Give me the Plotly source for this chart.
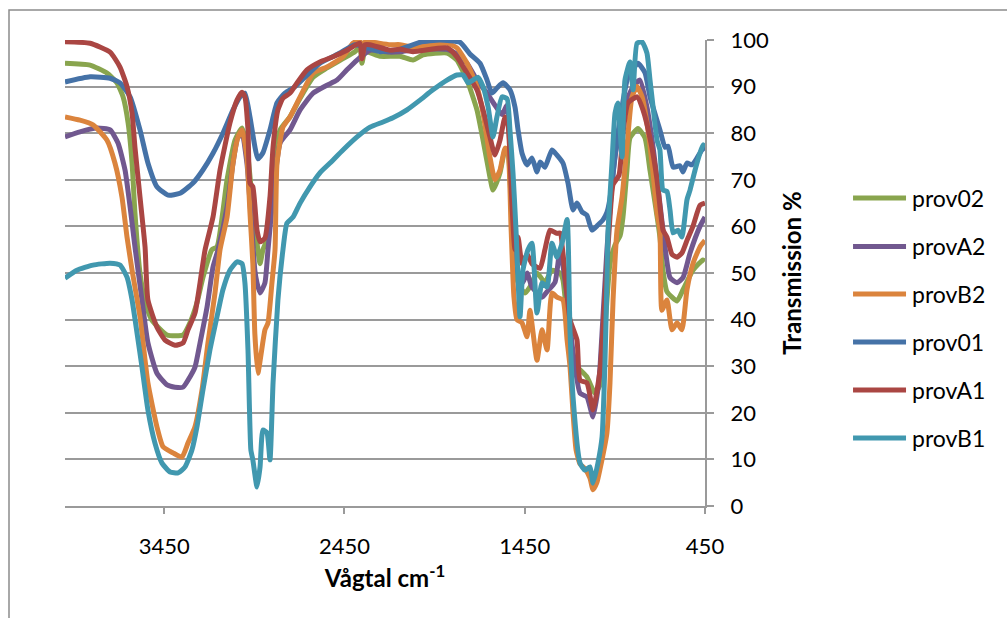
import plotly.graph_objects as go

# ---------------- data (wavenumber cm-1, transmission %) ----------------
series_names = ["prov02", "provA2", "provB2", "prov01", "provA1", "provB1"]
series_colors = ["#89A54E", "#71588F", "#DB843D", "#4572A7", "#AA4643", "#4198AF"]

prov02_x = [4000, 3861, 3767, 3712, 3678, 3650, 3628, 3612, 3584, 3556, 3520, 3434, 3345, 3307, 3268, 3235,
            3185, 3157, 3101, 3057, 3018, 2991, 2963, 2935, 2918, 2902, 2874, 2846, 2807, 2752, 2696, 2624,
            2547, 2458, 2392, 2364, 2353, 2336, 2253, 2142, 2070, 2014, 1881, 1826, 1770, 1715, 1681, 1643,
            1626, 1587, 1559, 1543, 1521, 1504, 1476, 1448, 1421, 1382, 1338, 1299, 1254, 1238, 1199, 1160,
            1105, 1060, 1032, 1005, 977, 949, 921, 905, 883, 866, 822, 783, 755, 727, 700, 683, 661, 605,
            572, 517, 461, 450]
prov02_y = [95, 94.6, 92.9, 90.8, 87.8, 82.2, 73.6, 62.9, 50, 44, 40, 36.7, 36.7, 39.3, 43.6, 49,
            55, 55.6, 70, 78.5, 81.1, 77, 66.3, 56.4, 52, 55, 57.7, 72, 80.7, 83.5, 87.5, 92,
            94, 96, 97.5, 98.5, 95, 97.5, 96.5, 96.5, 95.7, 96.8, 97.2, 95.7, 91.4, 85, 78.5, 70.6,
            67.8, 71.5, 76.4, 76, 60, 50, 47, 45.7, 47, 50, 48, 50.6, 50, 48.5, 35, 30,
            27.7, 24.2, 26, 38, 52, 56, 58, 62, 72, 79, 81, 79, 72, 65, 57.7, 50.6, 46, 44,
            46.4, 50.6, 52.8, 52.5]

provA2_x = [4000, 3917, 3823, 3750, 3706, 3667, 3639, 3612, 3573, 3540, 3490, 3434, 3390, 3345, 3307, 3279,
            3251, 3212, 3179, 3151, 3101, 3068, 3040, 3018, 2991, 2963, 2947, 2935, 2918, 2891, 2874, 2846,
            2807, 2752, 2696, 2624, 2547, 2491, 2436, 2380, 2308, 2197, 2142, 2031, 1881, 1826, 1770, 1715,
            1659, 1615, 1576, 1548, 1526, 1510, 1487, 1460, 1437, 1410, 1354, 1326, 1282, 1254, 1215, 1182,
            1143, 1105, 1071, 1044, 1032, 994, 949, 894, 849, 811, 772, 738, 711, 683, 672, 644, 605, 572,
            533, 478, 450]
provA2_y = [79.2, 80.3, 81.1, 80.7, 77.9, 72.1, 64.2, 55.6, 44.2, 35, 28.5, 26, 25.5, 25.5, 27.7, 29.8,
            35, 42.7, 51.3, 55, 64.2, 73.6, 79.2, 79.5, 73.6, 59.2, 50.6, 47.9, 45.7, 47.9, 55, 66.3,
            77.9, 80.7, 85, 88.6, 90.3, 91.4, 93.6, 95.7, 97.8, 97.4, 97.5, 98, 98, 97, 95, 91.4,
            88.6, 86, 84, 86, 70, 55, 50, 48, 50, 47, 44.8, 46, 48, 55, 45, 33,
            24.2, 23.4, 19.1, 25, 30, 55, 75, 86, 90, 91.4, 85.6, 77, 68.5, 59.2, 55.6, 49, 47.9, 49,
            54.3, 60, 62]

provB2_x = [4000, 3917, 3845, 3767, 3723, 3684, 3656, 3628, 3584, 3540, 3490, 3456, 3401, 3351, 3318, 3279,
            3240, 3207, 3168, 3140, 3101, 3068, 3040, 3018, 2991, 2974, 2958, 2947, 2930, 2907, 2891, 2874,
            2852, 2835, 2824, 2791, 2752, 2696, 2624, 2547, 2458, 2403, 2364, 2353, 2336, 2308, 2197, 2142,
            2070, 1881, 1826, 1770, 1715, 1681, 1643, 1615, 1587, 1559, 1543, 1526, 1510, 1493, 1465, 1437,
            1421, 1382, 1354, 1326, 1299, 1271, 1238, 1215, 1199, 1182, 1165, 1143, 1116, 1088, 1071, 1050,
            1032, 994, 977, 960, 938, 910, 883, 855, 827, 799, 772, 744, 716, 700, 689, 661, 633, 605,
            578, 550, 517, 478, 450]
provB2_y = [83.5, 82.8, 81.8, 78.5, 73.6, 66.3, 57.7, 50.6, 40.6, 26.4, 17, 12.7, 11.4, 10.5, 13.5, 17,
            24.9, 35, 45.7, 55, 62, 73.6, 79.2, 80.7, 74.9, 62.9, 52, 37, 28.5, 34, 37.8, 39.3,
            47.9, 55, 73.6, 81.3, 83.5, 87.8, 92.9, 94.2, 96.4, 99.3, 100, 96, 99.6, 99.6, 99, 99,
            98.5, 99.3, 98.3, 95, 90, 84.3, 74.9, 70, 72.1, 76.8, 76, 60, 45, 40, 39.3, 36.3,
            42, 31.3, 37.8, 33.5, 45.7, 44.8, 44.2, 35.6, 30, 20, 12, 9, 8, 6, 3.5, 5,
            8, 15.7, 26.4, 44.2, 59.2, 66.3, 77, 87.8, 90, 87.8, 82.2, 73.6, 62.9, 59.2, 42, 44.2, 37.8, 39.3,
            37.8, 46.4, 52, 55.6, 57]

prov01_x = [4000, 3861, 3750, 3695, 3639, 3584, 3540, 3490, 3428, 3362, 3290, 3235, 3179, 3124, 3068, 3029,
            3002, 2974, 2930, 2902, 2863, 2824, 2780, 2724, 2669, 2586, 2475, 2392, 2253, 2142, 2031, 1920,
            1809, 1754, 1698, 1659, 1632, 1604, 1570, 1532, 1504, 1487, 1465, 1437, 1410, 1382, 1365, 1338,
            1299, 1271, 1238, 1210, 1182, 1160, 1132, 1105, 1077, 1044, 1016, 994, 977, 933, 877, 822,
            783, 755, 700, 672, 655, 627, 589, 572, 550, 522, 494, 467, 450]
prov01_y = [91, 92.1, 91.8, 90.8, 87.8, 80.7, 73.6, 68.5, 66.7, 67.1, 69.3, 72.1, 75.7, 80, 85, 87.8,
            88.6, 83.5, 74.5, 75.8, 80.7, 86.5, 88.6, 90, 92, 95, 97.2, 99, 97.5, 98, 99.5, 100,
            99.5, 97, 95, 91.4, 88.6, 89.7, 90.8, 89.3, 85.6, 80.7, 75.7, 73.2, 74.7, 71.7, 73.8, 72.7,
            76.4, 75.3, 73.6, 69.3, 63.5, 65, 63.1, 62.4, 59.2, 60.3, 61.4, 63, 66, 80, 92, 95,
            93, 87.8, 80.7, 77, 77.2, 72.7, 73, 71.7, 73.6, 73.2, 74.7, 76.4, 77]

provA1_x = [4000, 3861, 3750, 3695, 3656, 3628, 3612, 3584, 3556, 3540, 3490, 3445, 3390, 3345, 3318, 3279,
            3251, 3223, 3179, 3140, 3085, 3046, 3018, 3002, 2985, 2974, 2958, 2935, 2918, 2891, 2863, 2846,
            2819, 2791, 2752, 2713, 2658, 2586, 2513, 2436, 2364, 2353, 2336, 2308, 2197, 2142, 2070, 1881,
            1826, 1770, 1715, 1681, 1643, 1615, 1587, 1559, 1543, 1521, 1504, 1487, 1465, 1437, 1410, 1365,
            1338, 1310, 1271, 1254, 1227, 1199, 1160, 1143, 1105, 1071, 1032, 1016, 994, 977, 960, 927,
            905, 877, 827, 794, 750, 716, 683, 661, 633, 605, 578, 550, 517, 478, 450]
provA1_y = [99.6, 99.3, 97.4, 94.2, 90, 84.3, 77, 66.3, 55.6, 44.2, 38.4, 35.6, 34.5, 35, 37.8, 41.4,
            47.9, 55, 62, 72.1, 82.2, 87.1, 88.8, 87.8, 80.7, 69.3, 68.5, 59.2, 56.7, 57.5, 66.3, 77,
            85, 87.5, 88.6, 90.8, 93.6, 95.3, 96.4, 97.8, 99.3, 96, 99, 99, 97.8, 98, 97.5, 98.3,
            96.4, 92.9, 89.3, 85, 79.2, 75.3, 78.5, 83.5, 82, 65, 55, 57.7, 52, 54, 52, 51,
            55, 59.2, 58.5, 58.6, 50, 40, 35.6, 27, 26.4, 20.6, 29.2, 37.8, 52, 62, 69, 71,
            80, 86.5, 87.8, 85, 78, 70, 59.2, 57.7, 54, 53.4, 54.3, 57, 60, 64.5, 65]

provB1_x = [4000, 3934, 3845, 3750, 3695, 3656, 3628, 3600, 3573, 3540, 3501, 3462, 3417, 3373, 3334, 3296,
            3268, 3235, 3196, 3157, 3124, 3085, 3046, 3018, 3002, 2985, 2969, 2958, 2935, 2918, 2902, 2880,
            2863, 2846, 2819, 2791, 2769, 2735, 2696, 2641, 2586, 2530, 2458, 2380, 2308, 2236, 2181, 2103,
            2031, 1959, 1881, 1826, 1792, 1764, 1737, 1709, 1681, 1653, 1626, 1604, 1576, 1548, 1532, 1515,
            1498, 1476, 1460, 1432, 1410, 1382, 1354, 1326, 1299, 1271, 1243, 1215, 1199, 1182, 1143, 1116,
            1088, 1071, 1044, 1021, 1005, 994, 988, 966, 949, 933, 910, 894, 866, 849, 827, 799,
            772, 755, 738, 716, 700, 683, 661, 644, 627, 600, 578, 550, 533, 505, 478, 461, 450]
provB1_y = [48.9, 50.6, 51.7, 52.1, 51.7, 49.1, 44.2, 37, 29.8, 20.6, 13.5, 9.2, 7.3, 7.1, 8.4, 12,
            17, 24.9, 33.5, 40.6, 46.4, 50.6, 52.4, 52, 47.9, 33.5, 12, 9.9, 4.1, 8.4, 16.3, 15.7,
            9.9, 26.4, 44.2, 55, 60.7, 62, 65, 68.5, 71.5, 73.6, 76.4, 79.2, 81.3, 82.4, 83.3, 85,
            87.1, 89.3, 91.4, 92.5, 92.5, 90.8, 91.4, 92, 90, 85.6, 79.2, 83.5, 87.8, 87.4, 80.7, 71.5,
            59, 40.6, 50.6, 55, 56.4, 41.4, 47.9, 47, 56.4, 53.4, 56.4, 61.5, 37.8, 23.4, 9.2, 7.7,
            8.4, 4.9, 9.2, 14.8, 30.7, 48.5, 59, 73.6, 84.3, 86.5, 74.9, 91.4, 95.3, 89.3, 99.3, 99.6,
            97.2, 91.4, 85.6, 78.5, 76.4, 67.8, 67.5, 63.5, 58.6, 59.2, 57.7, 65.7, 67.8, 72.1, 75.7, 77.5, 77]

series_x = [prov02_x, provA2_x, provB2_x, prov01_x, provA1_x, provB1_x]
series_y = [prov02_y, provA2_y, provB2_y, prov01_y, provA1_y, provB1_y]

x_ticks = [3450, 2450, 1450, 450]
y_ticks = list(range(0, 101, 10))

# ---------------- figure ----------------
FONT = "Lato"
GRID = "#9A9A9A"

fig = go.Figure()
for name, color, xs, ys in zip(series_names, series_colors, series_x, series_y):
    fig.add_trace(go.Scatter(x=xs, y=ys, mode="lines", name=name,
                             line=dict(color=color, width=5, shape="spline", smoothing=0.5),
                             showlegend=False))

fig.update_layout(
    width=1007, height=618,
    margin=dict(l=65, r=302, t=40, b=112),
    paper_bgcolor="white", plot_bgcolor="white",
    font=dict(family=FONT, color="black", size=22),
)
fig.update_xaxes(
    range=[4000, 450], tickvals=x_ticks, ticktext=[str(v) for v in x_ticks],
    showgrid=False, zeroline=False,
    showline=True, linecolor=GRID, linewidth=2,
    ticks="outside", ticklen=6, tickcolor=GRID, tickwidth=1.5,
    tickfont=dict(size=22, family=FONT), ticklabelstandoff=14,
    title=dict(text="<b>Vågtal cm<sup>-1</sup></b>", font=dict(size=24, family=FONT), standoff=12),
)
fig.update_yaxes(
    range=[0, 100], tickvals=y_ticks, side="right",
    showgrid=True, gridcolor=GRID, gridwidth=2, zeroline=False,
    showline=True, linecolor=GRID, linewidth=2,
    ticks="outside", ticklen=7, tickcolor=GRID, tickwidth=1.5,
    tickfont=dict(size=22, family=FONT), ticklabelstandoff=12,
    title=dict(text="<b>Transmission %</b>", font=dict(size=24, family=FONT), standoff=16),
)

# chart border (outer frame)
fig.add_shape(type="rect", xref="paper", yref="paper", x0=-0.0875, x1=1.48, y0=-0.26, y1=1.0644,
              line=dict(color="#8C8C8C", width=1.5), fillcolor="rgba(0,0,0,0)", layer="below")

# legend drawn to match the reference layout
leg_y = [0.661, 0.557, 0.455, 0.352, 0.249, 0.146]
for name, color, yy in zip(series_names, series_colors, leg_y):
    fig.add_shape(type="line", xref="paper", yref="paper", x0=1.2313, x1=1.3141, y0=yy, y1=yy,
                  line=dict(color=color, width=5))
    fig.add_annotation(xref="paper", yref="paper", x=1.3203, y=yy, text=name, showarrow=False,
                       xanchor="left", yanchor="middle", font=dict(size=23, family=FONT, color="black"))

fig.write_html("out.html")
